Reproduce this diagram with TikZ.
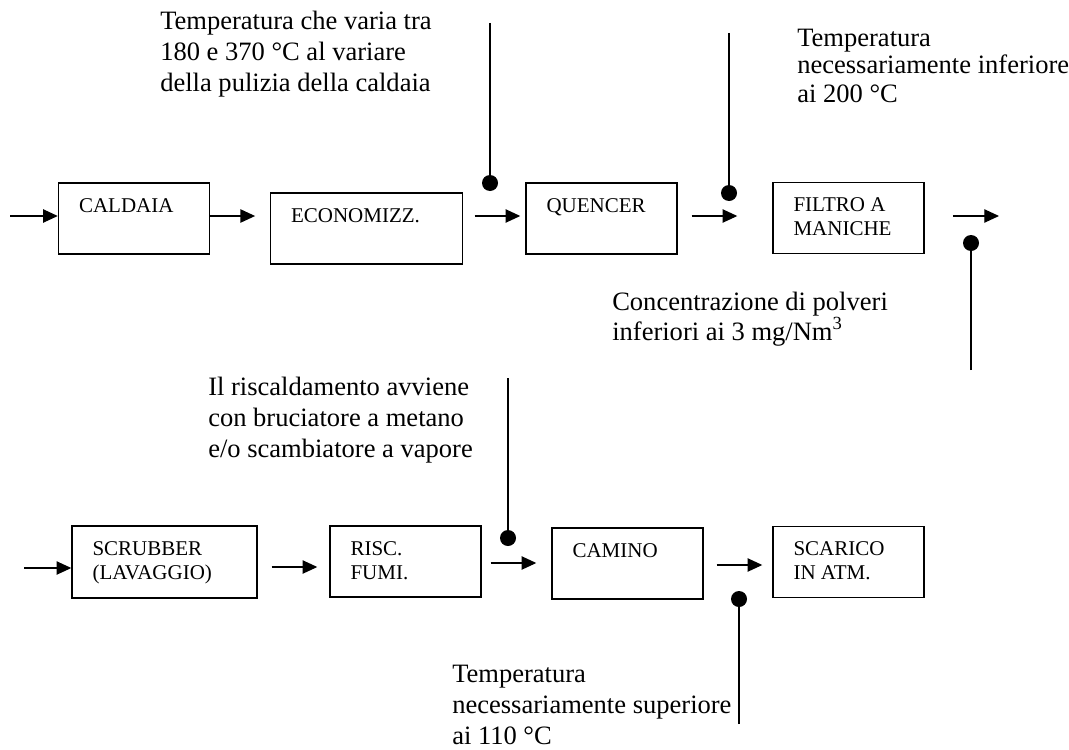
\documentclass[tikz,border=0pt]{standalone}
\usepackage{fontspec}
\setmainfont{Liberation Serif}
\usetikzlibrary{arrows.meta,positioning}

\begin{document}
\begin{tikzpicture}[
  x=0.75pt, y=-0.75pt,
  unit/.style={draw=black, line width=1.1pt, minimum width=113.25pt, minimum height=53.25pt, inner sep=0pt},
  unitname/.style={anchor=north west, xshift=15.75pt, yshift=-12pt, inner sep=0pt, align=left,
    font=\fontsize{15.75}{18}\selectfont},
  flow/.style={-{Triangle[length=11pt, width=10pt]}, line width=0.9pt},
  probe/.style={circle, fill=black, inner sep=0pt, minimum size=12pt},
  probeline/.style={line width=1.1pt},
  note/.style={anchor=base west, inner sep=0pt, align=left, font=\fontsize{19.9}{23.25}\selectfont}
]
  \useasboundingbox (0,0) rectangle (1069,749);

  % Top row
  \node[unit, label={[unitname]north west:CALDAIA}] (cald) at (134,218.5) {};
  \node[unit, minimum width=144pt, label={[unitname]north west:ECONOMIZZ.}] (econ) at (366.5,228.5) {};
  \node[unit, label={[unitname]north west:QUENCER}] (quen) at (601.5,218.5) {};
  \node[unit, label={[unitname]north west:FILTRO A\\MANICHE}] (filt) at (848.5,218) {};

  % Bottom row
  \node[unit, minimum width=138.75pt, minimum height=54pt, label={[unitname]north west:SCRUBBER\\(LAVAGGIO)}] (scrub) at (164.5,562) {};
  \node[unit, label={[unitname]north west:RISC.\\FUMI.}] (risc) at (405.5,561.5) {};
  \node[unit, label={[unitname]north west:CAMINO}] (cam) at (627.5,563.5) {};
  \node[unit, label={[unitname]north west:SCARICO\\IN ATM.}] (scar) at (848.5,562) {};

  % flow levels
  \coordinate (in1) at (10,216);
  \coordinate (out1) at (999,216);
  \coordinate (in2) at (24,568);
  \coordinate (lvA) at (0,567);
  \coordinate (lvB) at (0,563);
  \coordinate (lvC) at (0,565);

  \draw[flow] (in1) -- (cald.west |- in1);
  \draw[flow, shorten >=11pt] (cald.east |- in1) -- (econ.west |- in1);
  \draw[flow, shorten <=8.6pt, shorten >=3.75pt] (econ.east |- in1) -- (quen.west |- in1);
  \draw[flow, shorten <=10.5pt, shorten >=26.25pt] (quen.east |- in1) -- (filt.west |- in1);
  \draw[flow, shorten <=21pt] (filt.east |- in1) -- (out1);

  \draw[flow] (in2) -- (scrub.west |- in2);
  \draw[flow, shorten <=10.5pt, shorten >=9pt] (scrub.east |- lvA) -- (risc.west |- lvA);
  \draw[flow, shorten <=6.75pt, shorten >=11.25pt] (risc.east |- lvB) -- (cam.west |- lvB);
  \draw[flow, shorten <=9.75pt, shorten >=7.5pt] (cam.east |- lvC) -- (scar.west |- lvC);

  % measuring points
  \node[probe] (p1) at (490,183) {};
  \node[probe] (p2) at (729,193) {};
  \node[probe] (p3) at (971,243) {};
  \node[probe] (p4) at (508,538) {};
  \node[probe] (p5) at (739,599) {};
  \coordinate (p1end) at (490,23);
  \coordinate (p2end) at (729,33);
  \coordinate (p3end) at (971,370);
  \coordinate (p4end) at (508,378);
  \coordinate (p5end) at (739,724);
  \foreach \p in {p1,p2,p3,p4,p5} {
    \draw[probeline] (\p end) -- (\p.center);
  }

  % notes (base = last line)
  \node[note] (n1) at (160,91) {Temperatura che varia tra\\180 e 370 °C al variare\\della pulizia della caldaia};
  \node[note, font=\fontsize{19.9}{21}\selectfont] (n2) at (797,102) {Temperatura\\necessariamente inferiore\\ai 200 °C};
  \node[note, font=\fontsize{19.9}{19.5}\selectfont] (n3) at (612,340) {Concentrazione di polveri\\inferiori ai 3 mg/Nm\textsuperscript{3}};
  \node[note] (n4) at (208,457) {Il riscaldamento avviene\\con bruciatore a metano\\e/o scambiatore a vapore};
  \node[note] (n5) at (452,744) {Temperatura\\necessariamente superiore\\ai 110 °C};

\end{tikzpicture}
\end{document}
